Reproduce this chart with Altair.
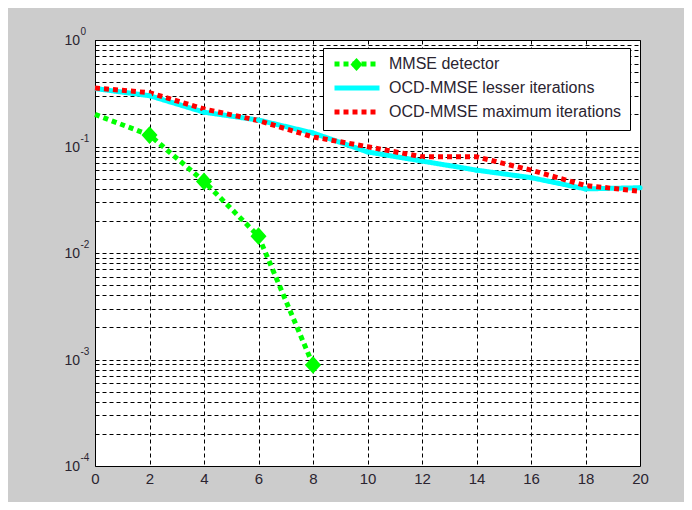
import altair as alt
import pandas as pd

# ---------------- data ----------------
x_vals = [0, 2, 4, 6, 8, 10, 12, 14, 16, 18, 20]
mmse_x = [0, 2, 4, 6, 8]
mmse_y = [0.20, 0.128, 0.047, 0.0144, 0.00089]
lesser_y = [0.35, 0.30, 0.21, 0.177, 0.134, 0.089, 0.073, 0.060, 0.051, 0.040, 0.041]
maximum_y = [0.354, 0.32, 0.225, 0.175, 0.123, 0.0996, 0.080, 0.080, 0.060, 0.043, 0.038]

series_names = ["MMSE detector", "OCD-MMSE lesser iterations", "OCD-MMSE maximum iterations"]
series_colors = ["#00ff00", "#00ffff", "#ff0000"]
series_dash = [[5, 4], [1, 0], [5, 4]]

x_ticks = [0, 2, 4, 6, 8, 10, 12, 14, 16, 18, 20]
decade_values = [1, 0.1, 0.01, 0.001, 0.0001]
decade_exponents = ["0", "-1", "-2", "-3", "-4"]
y_grid = [m * 10.0 ** k for k in range(-4, 0) for m in range(1, 10)] + [1.0]

diamond_path = "M0,-1.1L1,0L0,1.1L-1,0Z"
legend_line_path = "M-4.5,0L4.5,0"
FONT = "Liberation Sans"

# ---------------- tables ----------------
rows = []
for xv, yv in zip(mmse_x, mmse_y):
    rows.append({"series": series_names[0], "x": xv, "y": yv})
for xv, yv in zip(x_vals, lesser_y):
    rows.append({"series": series_names[1], "x": xv, "y": yv})
for xv, yv in zip(x_vals, maximum_y):
    rows.append({"series": series_names[2], "x": xv, "y": yv})
df = pd.DataFrame(rows)
labels_df = pd.DataFrame({"v": decade_values, "e": decade_exponents, "base": ["10"] * len(decade_values)})

xscale = alt.Scale(domain=[0, 20], nice=False, zero=False)
yscale = alt.Scale(type="log", domain=[0.0001, 1], nice=False)

X = alt.X("x:Q", scale=xscale, title=None,
          axis=alt.Axis(values=x_ticks, grid=True, gridDash=[4, 3], gridColor="#000000",
                        gridOpacity=1, ticks=False, domain=False, labelFont=FONT,
                        labelFontSize=15, labelColor="#2a2430", labelPadding=5,
                        labelFlush=False))
Y = alt.Y("y:Q", scale=yscale, title=None,
          axis=alt.Axis(values=y_grid, grid=True, gridDash=[4, 3], gridColor="#000000",
                        gridOpacity=1, ticks=False, domain=False, labels=False))

legend_common = dict(
    orient="none", legendX=228, legendY=8, title=None,
    fillColor="white", strokeColor="black", padding=8,
    labelFont=FONT, labelFontSize=16, labelColor="#2a2430", labelLimit=400,
    symbolType=legend_line_path, symbolSize=100, symbolStrokeWidth=5,
    symbolOffset=18, labelOffset=24, rowPadding=4, zindex=1,
)

lines = alt.Chart(df).mark_line(strokeWidth=5, strokeCap="butt").encode(
    x=X, y=Y,
    color=alt.Color("series:N", scale=alt.Scale(domain=series_names, range=series_colors),
                    legend=alt.Legend(**legend_common)),
    strokeDash=alt.StrokeDash("series:N", scale=alt.Scale(domain=series_names, range=series_dash),
                              legend=alt.Legend(**legend_common)),
)

cyan_pts = alt.Chart(df).transform_filter(
    (alt.datum.series == series_names[1]) & (alt.datum.x > 0)
).mark_point(shape="circle", filled=True, size=25, color="#00ffff", opacity=1).encode(
    x=alt.X("x:Q", scale=xscale), y=alt.Y("y:Q", scale=yscale)
)

diamonds = alt.Chart(df).transform_filter(
    (alt.datum.series == series_names[0]) & (alt.datum.x > 0)
).mark_point(filled=True, size=144, fill="#00ff00", stroke="#00ff00", strokeWidth=3, opacity=1).encode(
    x=alt.X("x:Q", scale=xscale), y=alt.Y("y:Q", scale=yscale),
    shape=alt.Shape("series:N", scale=alt.Scale(domain=[series_names[0]], range=[diamond_path]),
                    legend=alt.Legend(orient="none", legendX=254, legendY=17, title=None,
                                      labelExpr="''", padding=0, symbolSize=144,
                                      symbolFillColor="#00ff00", symbolStrokeColor="#00ff00",
                                      symbolStrokeWidth=3, zindex=2)),
)

base_lbl = alt.Chart(labels_df).mark_text(
    align="right", baseline="middle", font=FONT, fontSize=14, color="#2a2430", dy=1
).encode(y=alt.Y("v:Q", scale=yscale), x=alt.value(-15), text="base:N")

exp_lbl = alt.Chart(labels_df).mark_text(
    align="left", baseline="middle", font=FONT, fontSize=10, color="#2a2430", dy=-8
).encode(y=alt.Y("v:Q", scale=yscale), x=alt.value(-14.5), text="e:N")

chart = alt.layer(lines, cyan_pts, diamonds, base_lbl, exp_lbl).properties(
    width=545, height=426,
    autosize=alt.AutoSizeParams(type="none"),
    padding={"left": 87, "top": 32, "right": 44, "bottom": 36},
    background="#cccccc",
).configure_view(fill="white", stroke="black", strokeWidth=1)

chart.save("out.html", embed_options={"renderer": "svg", "actions": False})
